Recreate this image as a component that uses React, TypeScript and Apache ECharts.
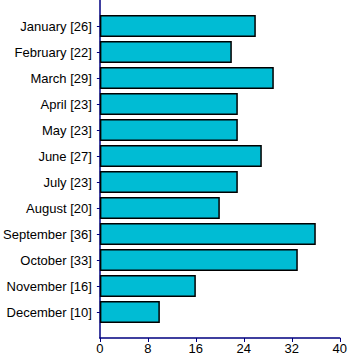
import React, { useEffect, useRef } from "react";
import * as echarts from "echarts";

const months = [
  "January", "February", "March", "April", "May", "June",
  "July", "August", "September", "October", "November", "December",
];
const values = [26, 22, 29, 23, 23, 27, 23, 20, 36, 33, 16, 10];
const xTicks = [0, 8, 16, 24, 32, 40];

export default function App() {
  const ref = useRef<HTMLDivElement>(null);
  useEffect(() => {
    const chart = echarts.init(ref.current!, null, { renderer: "svg" });
    const labels = ["", ...months.map((m, i) => `${m} [${values[i]}]`), ""];
    const data: any[] = ["-", ...values, "-"];
    chart.setOption({
      animation: false,
      grid: { left: 97, right: 8, top: 0, bottom: 26, containLabel: false },
      xAxis: {
        type: "value",
        min: xTicks[0],
        max: xTicks[xTicks.length - 1],
        interval: 8,
        splitLine: { show: false },
        axisLine: { show: true, lineStyle: { color: "#000080", width: 1.5 } },
        axisTick: { show: true, length: 4, lineStyle: { color: "#000080" } },
        axisLabel: {
          color: "#000",
          fontFamily: "Liberation Sans, Arial, sans-serif",
          fontSize: 13,
          margin: 4,
        },
      },
      yAxis: {
        type: "category",
        data: labels,
        inverse: true,
        boundaryGap: false,
        axisLine: { show: true, lineStyle: { color: "#000080", width: 1.5 } },
        axisTick: {
          show: true,
          length: 3,
          lineStyle: { color: "#000080" },
          interval: (_i: number, v: string) => v !== "",
        },
        axisLabel: {
          color: "#000",
          fontFamily: "Liberation Sans, Arial, sans-serif",
          fontSize: 13,
          margin: 8,
          interval: 0,
        },
        splitLine: { show: false },
      },
      series: [
        {
          type: "bar",
          data,
          barWidth: 22,
          itemStyle: { color: "#00BCD4", borderColor: "#000", borderWidth: 1.5 },
        },
      ],
    });
    return () => chart.dispose();
  }, []);
  return <div ref={ref} style={{ width: 350, height: 364, position: "absolute", left: 0, top: 0 }} />;
}
